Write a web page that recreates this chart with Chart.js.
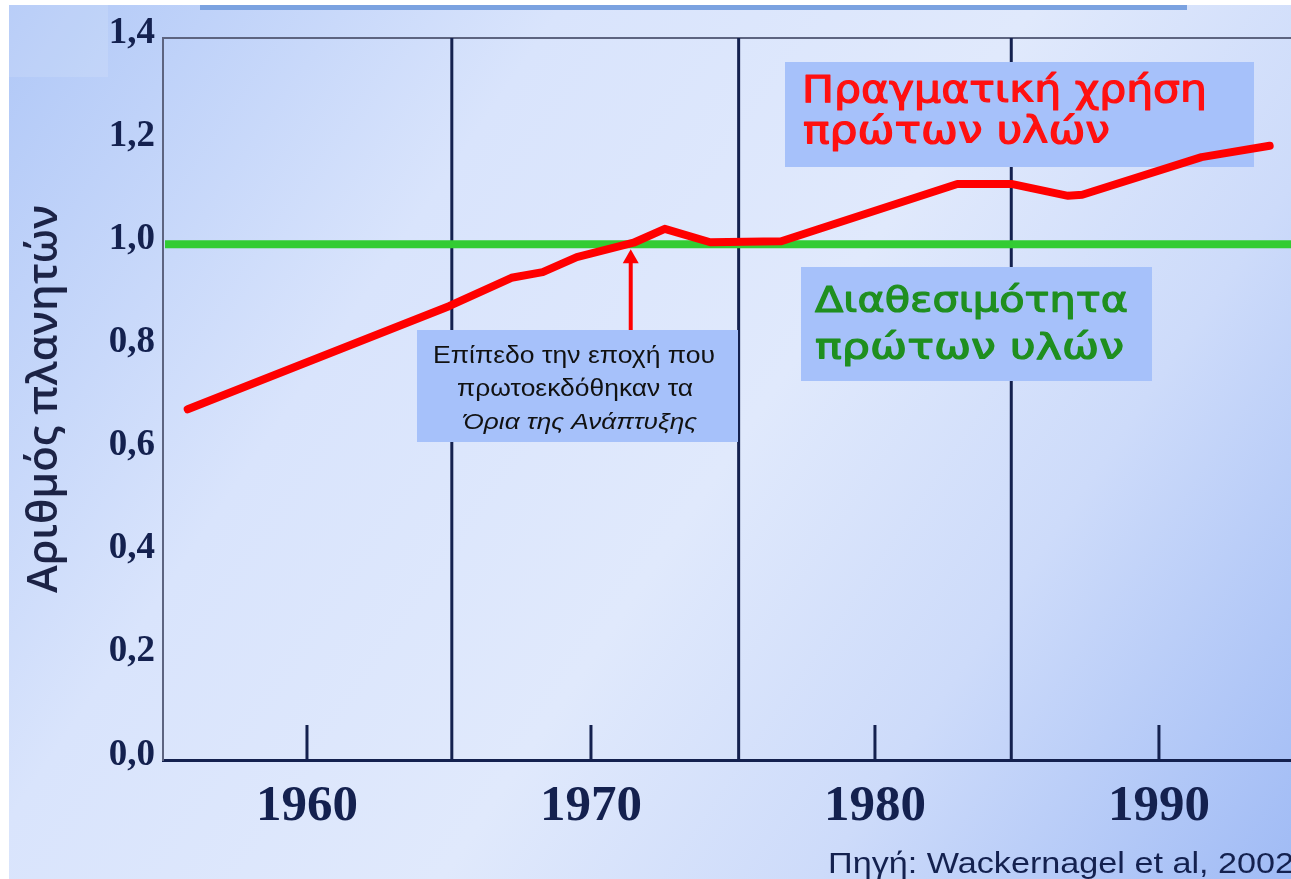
<!DOCTYPE html>
<html>
<head>
<meta charset="utf-8">
<script src="https://cdn.jsdelivr.net/npm/chart.js@4"></script>
<style>
  html, body { margin: 0; padding: 0; background: #fff; overflow: hidden; }
  canvas { display: block; }
</style>
</head>
<body>
<canvas id="chart" width="1291" height="879"></canvas>
<script>
// ======================
// DATA
// ======================
const years   = [1955.8, 1965.0, 1967.2, 1968.3, 1969.5, 1971.5, 1972.6, 1974.2, 1976.7, 1982.9, 1984.8, 1986.8, 1987.3, 1991.5, 1993.9];
const usage   = [0.680, 0.880, 0.935, 0.946, 0.975, 1.003, 1.030, 1.004, 1.006, 1.117, 1.117, 1.094, 1.096, 1.169, 1.191];
const availYears = [1955, 1994.65];
const availValues = [1.0, 1.0];

const decadeTicks = [1960, 1970, 1980, 1990];
const dividerYears = [1965.1, 1975.2, 1984.8];
const arrowYear = 1971.4;

const yTitle = "Αριθμός πλανητών";
const usageLabel = ["Πραγματική χρήση", "πρώτων υλών"];
const availLabel = ["Διαθεσιμότητα", "πρώτων υλών"];
const noteLines = ["Επίπεδο την εποχή που", "πρωτοεκδόθηκαν τα", "Όρια της Ανάπτυξης"];
const source = "Πηγή: Wackernagel et al, 2002";

const NAVY = "#14214f";
const BOX = "#a6c1fa";

// draw text squeezed/stretched to a given width (the slide was stretched sideways)
function fitText(c, text, x, y, width, bold) {
  const w = c.measureText(text).width;
  c.save();
  c.translate(x, y);
  c.scale(width / w, 1);
  if (bold) {
    c.strokeStyle = c.fillStyle;
    c.lineWidth = bold;
    c.lineJoin = "round";
    c.strokeText(text, 0, 0);
  }
  c.fillText(text, 0, 0);
  c.restore();
}

// ======================
// BACKGROUND + DECORATION
// ======================
const backdrop = {
  id: "backdrop",
  beforeDraw(chart) {
    const c = chart.ctx, w = chart.width, h = chart.height;
    const g = c.createLinearGradient(0, 0, w, h);
    g.addColorStop(0, "#afc7f7");
    g.addColorStop(0.3, "#d9e4fc");
    g.addColorStop(0.55, "#e0e9fc");
    g.addColorStop(0.75, "#cddbfa");
    g.addColorStop(1, "#a0bbf5");
    c.save();
    c.fillStyle = "#ffffff";
    c.fillRect(0, 0, w, h);
    c.fillStyle = g;
    c.fillRect(9, 5, w - 9, h - 5);
    c.fillStyle = "rgba(255,255,255,0.12)";
    c.fillRect(9, 5, 99, 72);
    c.fillStyle = "#7ba2e0";
    c.fillRect(200, 5, 987, 5);
    c.restore();
  },
  beforeDatasetsDraw(chart) {
    const c = chart.ctx, x = chart.scales.x, a = chart.chartArea;
    c.save();
    c.strokeStyle = NAVY;
    c.lineWidth = 3;
    // full-height dividers
    dividerYears.forEach(v => {
      const px = x.getPixelForValue(v);
      c.beginPath();
      c.moveTo(px, a.top);
      c.lineTo(px, a.bottom);
      c.stroke();
    });
    // short decade ticks rising from the x axis
    decadeTicks.forEach(v => {
      const px = x.getPixelForValue(v);
      c.beginPath();
      c.moveTo(px, a.bottom);
      c.lineTo(px, a.bottom - 35);
      c.stroke();
    });

    c.textBaseline = "alphabetic";
    c.textAlign = "left";

    // red label
    c.fillStyle = BOX;
    c.fillRect(785, 62, 469, 105);
    c.fillStyle = "#ff1010";
    c.font = "37px 'DejaVu Sans', Verdana, sans-serif";
    fitText(c, usageLabel[0], 802, 102, 405, 1.2);
    fitText(c, usageLabel[1], 803, 143, 307, 1.2);

    // green label
    c.fillStyle = BOX;
    c.fillRect(801, 267, 351, 114);
    c.fillStyle = "#1f8f1f";
    c.font = "36px 'DejaVu Sans', Verdana, sans-serif";
    fitText(c, availLabel[0], 815, 312, 313, 1.2);
    fitText(c, availLabel[1], 815, 359, 309, 1.2);

    // note box
    c.fillStyle = BOX;
    c.fillRect(417, 330, 321, 112);
    c.fillStyle = "#111";
    c.font = "23px 'Liberation Sans', Arial, sans-serif";
    fitText(c, noteLines[0], 433, 363, 282);
    fitText(c, noteLines[1], 457, 396, 236);
    c.font = "italic 23px 'Liberation Sans', Arial, sans-serif";
    fitText(c, noteLines[2], 463, 429, 234);
    c.restore();
  },
  afterDatasetsDraw(chart) {
    // arrow to the 1.0 level
    const c = chart.ctx, x = chart.scales.x, y = chart.scales.y;
    const ax = x.getPixelForValue(arrowYear);
    const tip = y.getPixelForValue(1.0) + 5;
    c.save();
    c.strokeStyle = "#ff0000";
    c.fillStyle = "#ff0000";
    c.lineWidth = 4;
    c.beginPath();
    c.moveTo(ax, 330);
    c.lineTo(ax, tip + 12);
    c.stroke();
    c.beginPath();
    c.moveTo(ax, tip);
    c.lineTo(ax - 8, tip + 14);
    c.lineTo(ax + 8, tip + 14);
    c.closePath();
    c.fill();
    c.restore();
  },
  afterDraw(chart) {
    const c = chart.ctx;
    c.save();
    c.fillStyle = NAVY;
    c.font = "29px 'Liberation Sans', Arial, sans-serif";
    c.textAlign = "left";
    c.textBaseline = "alphabetic";
    fitText(c, source, 828, 873, 466);
    c.restore();
  }
};

// ======================
// LINE CHART
// ======================
new Chart(document.getElementById("chart"), {
  type: "line",
  data: {
    datasets: [
      {
        label: usageLabel.join(" "),
        data: years.map((yr, i) => ({ x: yr, y: usage[i] })),
        borderColor: "#ff0000",
        borderWidth: 8,
        borderCapStyle: "round",
        borderJoinStyle: "round",
        pointRadius: 0,
        tension: 0
      },
      {
        label: availLabel.join(" "),
        data: availYears.map((yr, i) => ({ x: yr, y: availValues[i] })),
        borderColor: "#33cc33",
        borderWidth: 8,
        pointRadius: 0,
        tension: 0
      }
    ]
  },
  plugins: [backdrop],
  options: {
    responsive: false,
    animation: false,
    layout: { padding: { top: 38, left: 0, right: 0, bottom: 0 } },
    plugins: { legend: { display: false }, tooltip: { enabled: false } },
    scales: {
      x: {
        type: "linear",
        min: 1954.93,
        max: 1994.65,
        afterFit: s => { s.height = 119; s.paddingRight = 0; s.paddingLeft = 0; },
        border: { color: NAVY, width: 3 },
        grid: { display: false, drawTicks: false },
        ticks: {
          stepSize: 5,
          includeBounds: false,
          autoSkip: false,
          maxRotation: 0,
          padding: 16,
          color: NAVY,
          font: { family: "'Liberation Serif', 'Times New Roman', serif", size: 51, weight: "bold" },
          callback: v => decadeTicks.includes(v) ? String(v) : ""
        }
      },
      y: {
        min: 0,
        max: 1.4,
        afterFit: s => { s.width = 163; },
        border: { color: "#5d6480", width: 2 },
        grid: {
          drawTicks: false,
          color: ctx => ctx.tick && Math.abs(ctx.tick.value - 1.4) < 1e-6 ? "#5d6480" : "rgba(0,0,0,0)",
          lineWidth: 2
        },
        ticks: {
          stepSize: 0.2,
          padding: 8,
          labelOffset: -5,
          color: NAVY,
          font: { family: "'Liberation Serif', 'Times New Roman', serif", size: 37, weight: "bold" },
          callback: v => v.toFixed(1).replace(".", ",")
        },
        title: {
          display: true,
          text: yTitle,
          color: "#1c2346",
          padding: { top: 20, bottom: 0 },
          font: { family: "'Open Sans', 'Liberation Sans', sans-serif", size: 42, weight: "600" }
        }
      }
    }
  }
});
</script>
</body>
</html>
